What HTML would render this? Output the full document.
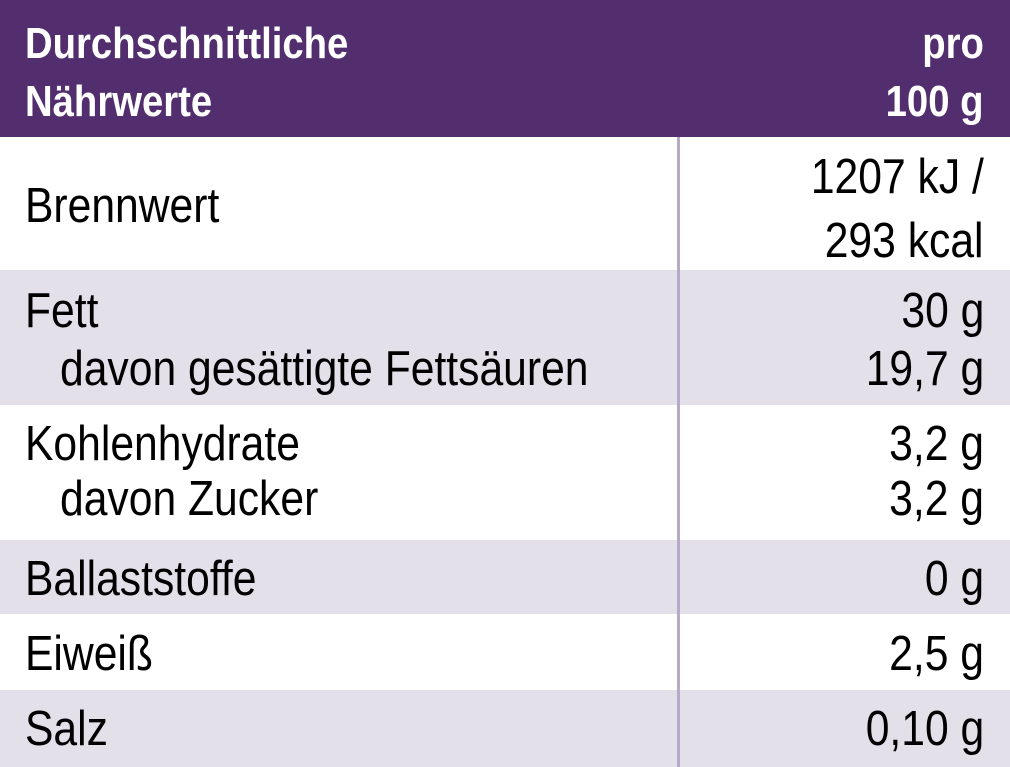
<!DOCTYPE html>
<html><head><meta charset="utf-8"><style>
body{margin:0;width:1010px;height:767px;overflow:hidden;font-family:"Liberation Sans",sans-serif;position:relative;background:#fff}
.bg{position:absolute;left:0;width:1010px}
.t{position:absolute;font-size:49px;line-height:49px;white-space:nowrap;color:#000}
.l{left:25px;transform:scaleX(0.87);transform-origin:left}
.r{right:26px;transform:scaleX(0.87);transform-origin:right}
.h{color:#fff;font-weight:bold;font-size:44px;line-height:44px}
</style></head><body>
<div class="bg" style="top:0;height:137px;background:#532e6e"></div>
<div class="bg" style="top:137px;height:133px;background:#fff"></div>
<div class="bg" style="top:270px;height:135px;background:#e4e0ea"></div>
<div class="bg" style="top:405px;height:135px;background:#fff"></div>
<div class="bg" style="top:540px;height:74px;background:#e4e0ea"></div>
<div class="bg" style="top:614px;height:76px;background:#fff"></div>
<div class="bg" style="top:690px;height:77px;background:#e4e0ea"></div>
<div style="position:absolute;left:677px;top:137px;width:3px;height:630px;background:#b9a9c9"></div>

<div class="t h l" style="top:22px">Durchschnittliche</div>
<div class="t h l" style="top:80px">Nährwerte</div>
<div class="t h r" style="top:22px">pro</div>
<div class="t h r" style="top:80px">100 g</div>

<div class="t l" style="top:182px">Brennwert</div>
<div class="t r" style="top:153px">1207 kJ /</div>
<div class="t r" style="top:217px">293 kcal</div>

<div class="t l" style="top:287px">Fett</div>
<div class="t r" style="top:287px">30 g</div>
<div class="t l" style="top:345px;left:60px">davon gesättigte Fettsäuren</div>
<div class="t r" style="top:345px">19,7 g</div>

<div class="t l" style="top:420px">Kohlenhydrate</div>
<div class="t r" style="top:420px">3,2 g</div>
<div class="t l" style="top:475px;left:60px">davon Zucker</div>
<div class="t r" style="top:475px">3,2 g</div>

<div class="t l" style="top:555px">Ballaststoffe</div>
<div class="t r" style="top:555px">0 g</div>

<div class="t l" style="top:630px">Eiweiß</div>
<div class="t r" style="top:630px">2,5 g</div>

<div class="t l" style="top:705px">Salz</div>
<div class="t r" style="top:705px">0,10 g</div>
</body></html>
